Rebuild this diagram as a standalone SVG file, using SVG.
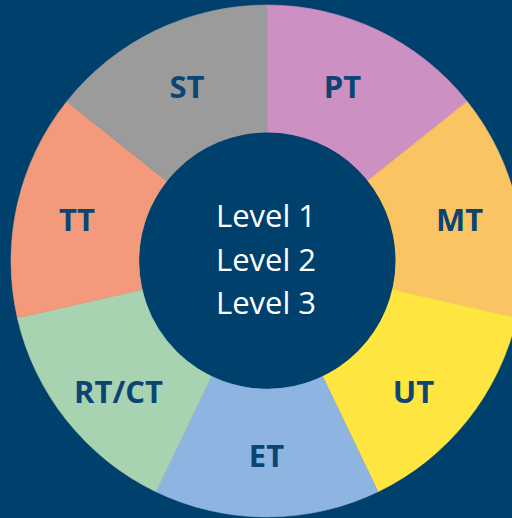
<svg xmlns="http://www.w3.org/2000/svg" width="512" height="518" viewBox="0 0 512 518">
  <style>
    .seg { stroke-width: 0.6; }
    .lbl { font-family: "Open Sans", "DejaVu Sans", sans-serif; font-weight: bold; font-size: 31px; fill: #0B4573; text-anchor: middle; }
    .ctr { font-family: "Open Sans", "DejaVu Sans", sans-serif; font-size: 31px; fill: #FFFFFF; text-anchor: middle; }
  </style>
  <rect x="0" y="0" width="512" height="518" fill="#00406D"/>
  <g id="PT">
    <path class="seg" d="M267,5 A256,256 0 0 1 467.15,101.39 L367.07,181.19 A128,128 0 0 0 267,133 Z" fill="#CC91C2" stroke="#CC91C2"/>
    <text class="lbl" x="342.5" y="98">PT</text>
  </g>
  <g id="MT">
    <path class="seg" d="M467.15,101.39 A256,256 0 0 1 516.58,317.97 L391.79,289.48 A128,128 0 0 0 367.07,181.19 Z" fill="#FBC462" stroke="#FBC462"/>
    <text class="lbl" x="459.5" y="231">MT</text>
  </g>
  <g id="UT">
    <path class="seg" d="M516.58,317.97 A256,256 0 0 1 378.07,491.65 L322.54,376.32 A128,128 0 0 0 391.79,289.48 Z" fill="#FEE53F" stroke="#FEE53F"/>
    <text class="lbl" x="413.5" y="403">UT</text>
  </g>
  <g id="ET">
    <path class="seg" d="M378.07,491.65 A256,256 0 0 1 155.93,491.65 L211.46,376.32 A128,128 0 0 0 322.54,376.32 Z" fill="#8EB4E1" stroke="#8EB4E1"/>
    <text class="lbl" x="266.5" y="467">ET</text>
  </g>
  <g id="RTCT">
    <path class="seg" d="M155.93,491.65 A256,256 0 0 1 17.42,317.97 L142.21,289.48 A128,128 0 0 0 211.46,376.32 Z" fill="#A8D3B0" stroke="#A8D3B0"/>
    <text class="lbl" x="118.5" y="403">RT/CT</text>
  </g>
  <g id="TT">
    <path class="seg" d="M17.42,317.97 A256,256 0 0 1 66.85,101.39 L166.93,181.19 A128,128 0 0 0 142.21,289.48 Z" fill="#F39A7C" stroke="#F39A7C"/>
    <text class="lbl" x="77" y="231">TT</text>
  </g>
  <g id="ST">
    <path class="seg" d="M66.85,101.39 A256,256 0 0 1 267,5 L267,133 A128,128 0 0 0 166.93,181.19 Z" fill="#9B9B9B" stroke="#9B9B9B"/>
    <text class="lbl" x="187" y="98">ST</text>
  </g>
  <g id="center">
    <circle cx="267.5" cy="260.5" r="128" fill="#00406D"/>
    <text class="ctr" x="266" y="227">Level 1</text>
    <text class="ctr" x="266" y="271">Level 2</text>
    <text class="ctr" x="266" y="314">Level 3</text>
  </g>
</svg>
